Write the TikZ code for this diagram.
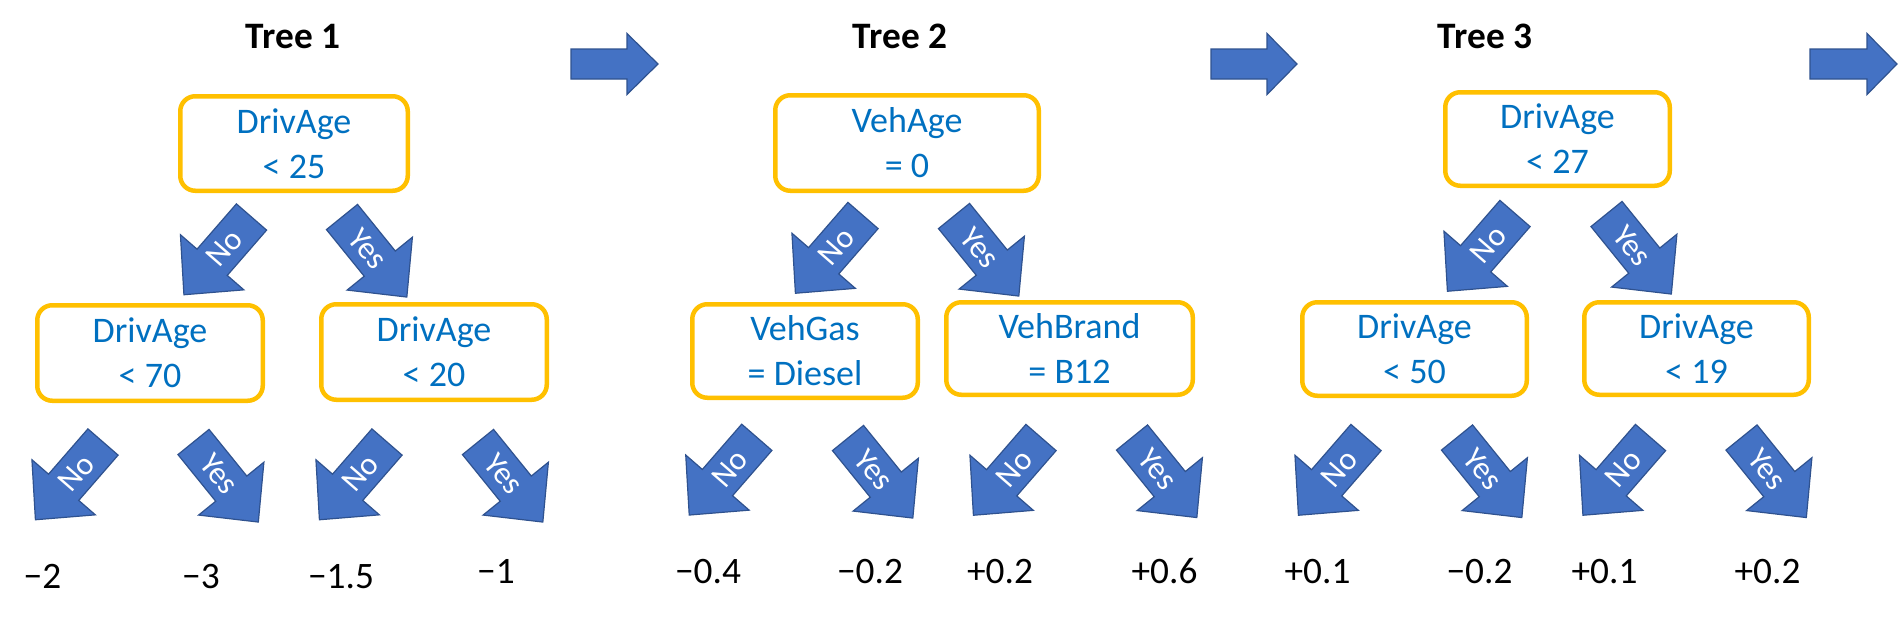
\documentclass[tikz,border=0pt]{standalone}
\usepackage{fontspec}
\setmainfont{Carlito}
\newdimen\pxu \pxu=0.75pt
\definecolor{boxorange}{HTML}{FFC000}
\definecolor{boxtext}{HTML}{0070C0}
\definecolor{arrfill}{HTML}{4472C4}
\definecolor{arrline}{HTML}{2F528F}
\tikzset{
  splitbox/.style={draw=boxorange, line width=4.5\pxu, rounded corners=15\pxu, fill=white,
    inner sep=0pt, align=center, text=boxtext, font=\fontsize{27}{33.75}\selectfont},
  arrowbody/.style={fill=arrfill, draw=arrline, line width=1.2\pxu, line join=miter},
  arrlabel/.style={text=white, font=\fontsize{24}{28}\selectfont, inner sep=0pt},
  leafval/.style={font=\fontsize{28}{34}\selectfont, anchor=base, inner sep=0pt},
  treetitle/.style={font=\bfseries\fontsize{28}{34}\selectfont, anchor=base, inner sep=0pt}
}
% #1 name, #2 x, #3 y, #4 angle, #5 label, #6 label angle
\newcommand{\branchArrow}[6]{%
  \begin{scope}[shift={(#2,#3)}, rotate=#4]
    \path[arrowbody] (0,-20) -- (60,-20) -- (60,-42) -- (103,0) -- (60,42) -- (60,20) -- (0,20) -- cycle;
    \node[arrlabel, rotate=#6] (#1) at (41,0) {#5};
  \end{scope}}
% #1 tail x, #2 head x, #3 tip x, #4 y
\newcommand{\nextArrow}[4]{%
  \path[arrowbody] (#1,#4-15) -- (#2,#4-15) -- (#2,#4-30.5) -- (#3,#4) -- (#2,#4+30.5) -- (#2,#4+15) -- (#1,#4+15) -- cycle;}
\begin{document}
\begin{tikzpicture}[x=0.75pt,y=-0.75pt]
\useasboundingbox[fill=white] (0,0) rectangle (1898,622);

% titles
\node[treetitle] (t1) at (293,48) {Tree 1};
\node[treetitle] (t2) at (900,48) {Tree 2};
\node[treetitle] (t3) at (1485,48) {Tree 3};

% arrows between trees
\nextArrow{571}{627}{658}{64}
\nextArrow{1211}{1267}{1297}{64}
\nextArrow{1810}{1867}{1897}{64}

% Tree 1
\node[splitbox, minimum width=227.5\pxu, minimum height=94.5\pxu] (a0) at (294,143.5) {DrivAge\\< 25};
\node[splitbox, minimum width=225.5\pxu, minimum height=95.5\pxu] (a1) at (150,353) {DrivAge\\< 70};
\node[splitbox, minimum width=225.5\pxu, minimum height=95.5\pxu] (a2) at (434,352) {DrivAge\\< 20};
\branchArrow{a0no}{251.5}{217}{-131}{No}{49}
\branchArrow{a0yes}{342}{217}{-51}{Yes}{-51}
\branchArrow{a1no}{103}{442}{-131}{No}{49}
\branchArrow{a1yes}{193.5}{442}{-51}{Yes}{-51}
\branchArrow{a2no}{387}{442}{-131}{No}{49}
\branchArrow{a2yes}{478}{442}{-51}{Yes}{-51}
\node[leafval] (a11) at (42.5,588) {−2};
\node[leafval] (a12) at (201,588) {−3};
\node[leafval] (a21) at (341,588) {−1.5};
\node[leafval] (a22) at (496,583) {−1};

% Tree 2
\node[splitbox, minimum width=263.5\pxu, minimum height=95.5\pxu] (b0) at (907,143) {VehAge\\= 0};
\node[splitbox, minimum width=225.5\pxu, minimum height=93.5\pxu] (b1) at (805,351) {VehGas\\= Diesel};
\node[splitbox, minimum width=246.5\pxu, minimum height=92.5\pxu] (b2) at (1069.5,348.5) {VehBrand\\= B12};
\branchArrow{b0no}{863}{215.5}{-131}{No}{49}
\branchArrow{b0yes}{954}{216}{-51}{Yes}{-51}
\branchArrow{b1no}{756.8}{437.3}{-131}{No}{49}
\branchArrow{b1yes}{848}{438}{-51}{Yes}{-51}
\branchArrow{b2no}{1041}{437.5}{-131}{No}{49}
\branchArrow{b2yes}{1132}{437.5}{-51}{Yes}{-51}
\node[leafval] (b11) at (708,583) {−0.4};
\node[leafval] (b12) at (870,583) {−0.2};
\node[leafval] (b21) at (1000,583) {+0.2};
\node[leafval] (b22) at (1164.5,583) {+0.6};

% Tree 3
\node[splitbox, minimum width=224.5\pxu, minimum height=93.5\pxu] (c0) at (1557.5,139) {DrivAge\\< 27};
\node[splitbox, minimum width=224.5\pxu, minimum height=93.5\pxu] (c1) at (1414.5,349) {DrivAge\\< 50};
\node[splitbox, minimum width=224.5\pxu, minimum height=92.5\pxu] (c2) at (1696.5,348.5) {DrivAge\\< 19};
\branchArrow{c0no}{1515}{213.5}{-131}{No}{49}
\branchArrow{c0yes}{1606.5}{214}{-51}{Yes}{-51}
\branchArrow{c1no}{1366}{437.5}{-131}{No}{49}
\branchArrow{c1yes}{1457}{437.5}{-51}{Yes}{-51}
\branchArrow{c2no}{1650.5}{437.5}{-131}{No}{49}
\branchArrow{c2yes}{1741.5}{437.5}{-51}{Yes}{-51}
\node[leafval] (c11) at (1317.5,583) {+0.1};
\node[leafval] (c12) at (1479.5,583) {−0.2};
\node[leafval] (c21) at (1604.5,583) {+0.1};
\node[leafval] (c22) at (1767.5,583) {+0.2};
\end{tikzpicture}
\end{document}
